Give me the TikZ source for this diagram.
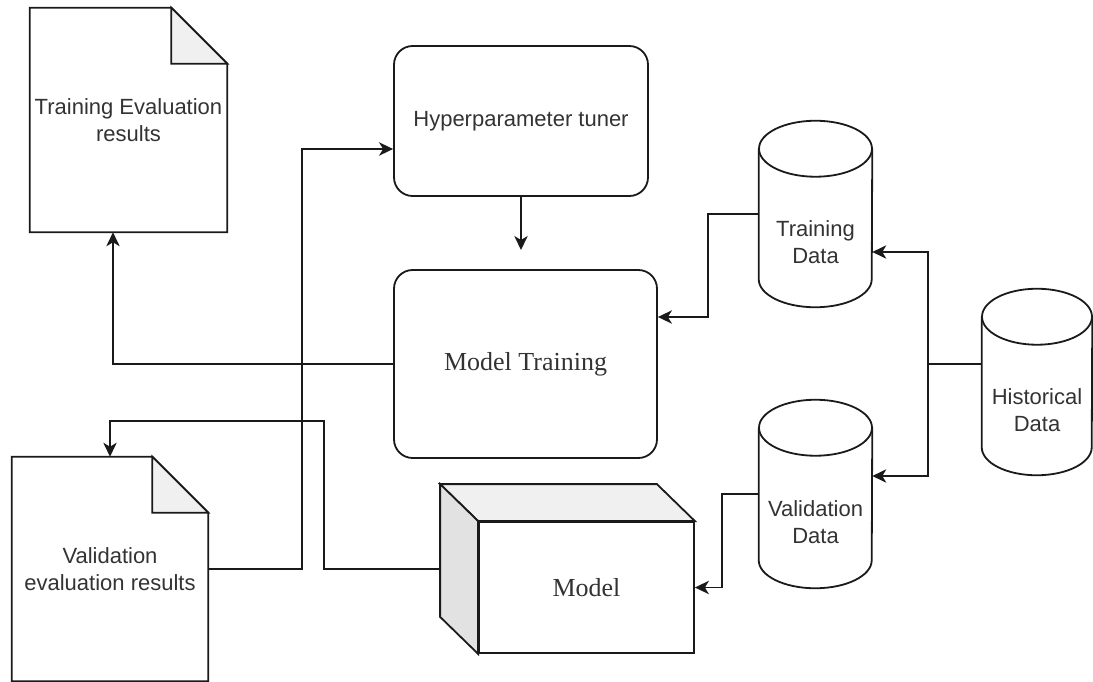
\documentclass[tikz,border=0pt]{standalone}
\usepackage{fontspec}
\setmainfont{Liberation Serif}
\setsansfont{Liberation Sans}
\usetikzlibrary{arrows.meta,calc}

\definecolor{ink}{HTML}{1A1A1A}
\definecolor{txt}{HTML}{333333}
\definecolor{foldgray}{HTML}{F0F0F0}
\definecolor{topgray}{HTML}{F0F0F0}
\definecolor{sidegray}{HTML}{E2E2E2}

\tikzset{
  shp/.style={draw=ink, line width=1.35pt, line join=miter},
  sanslabel/.style={font=\sffamily\fontsize{16.5pt}{20.25pt}\selectfont, text=txt, align=center},
  seriflabel/.style={font=\rmfamily\fontsize{19.5pt}{23pt}\selectfont, text=txt, align=center},
  docbox/.style={sanslabel, inner sep=0pt},
  roundbox/.style={shp, rounded corners=14pt, inner sep=0pt},
  cylbox/.style={sanslabel, inner sep=0pt},
  cubebox/.style={shp, fill=white, seriflabel, inner sep=0pt},
  arr/.style={draw=ink, line width=1.35pt, line join=miter,
    -{Stealth[length=10.5pt, width=10pt, inset=3pt]}},
}

\begin{document}
\begin{tikzpicture}[x=0.75pt, y=-0.75pt]
\useasboundingbox (0,0) rectangle (1093,682);

% ---- shapes ----
\node[docbox, minimum width=147.75pt, minimum height=168pt] (ter) at (128.5,120)
  {Training Evaluation\\results};
\node[docbox, minimum width=147pt, minimum height=168pt] (ver) at (110,569)
  {Validation\\evaluation results};

\node[roundbox, sanslabel, minimum width=190.5pt, minimum height=112.5pt] (hp) at (521,121)
  {Hyperparameter tuner};
\node[roundbox, seriflabel, minimum width=197.25pt, minimum height=141pt] (mt) at (525.5,364)
  {Model Training};

\node[cylbox, minimum width=84.75pt, minimum height=97.5pt] (td) at (815.5,242) {Training\\Data};
\node[cylbox, minimum width=84.75pt, minimum height=99pt] (vd) at (815.5,522) {Validation\\Data};
\node[cylbox, minimum width=82.5pt, minimum height=97.5pt] (hd) at (1037,410) {Historical\\Data};

\node[cubebox, minimum width=161.25pt, minimum height=98.25pt] (mdl) at (586.5,587.5) {Model};

% documents with a folded corner
\foreach \n in {ter,ver} {
  \draw[shp] (\n.north west) -- ([xshift=-42pt]\n.north east) -- ([yshift=-42pt]\n.north east)
    -- (\n.south east) -- (\n.south west) -- cycle;
  \draw[shp, fill=foldgray] ([xshift=-42pt]\n.north east) -- ([xshift=-42pt,yshift=-42pt]\n.north east)
    -- ([yshift=-42pt]\n.north east) -- cycle;
}

% database cylinders
\foreach \n/\rx in {td/42.375pt, vd/42.375pt, hd/41.25pt} {
  \draw[shp] ([yshift=21pt]\n.north) ellipse [x radius=\rx, y radius=21pt];
  \draw[shp] ([yshift=21pt]\n.north west) -- ([yshift=21pt]\n.south west)
    arc[start angle=180, end angle=360, x radius=\rx, y radius=21pt]
    -- ([yshift=21pt]\n.north east);
}

% cube faces of the model
\draw[shp, fill=topgray] (mdl.north west) -- ++(-28.5pt,27.75pt)
  -- ([xshift=-28.5pt,yshift=27.75pt]mdl.north east) -- (mdl.north east) -- cycle;
\draw[shp, fill=sidegray] (mdl.north west) -- ++(-28.5pt,27.75pt)
  -- ([xshift=-28.5pt,yshift=27.75pt]mdl.south west) -- (mdl.south west) -- cycle;

% ---- connectors ----
\coordinate (hpend) at (521,250);
\draw[arr] (hp.south) -- (hpend);

\draw[arr] (mt.west) -| ([xshift=-11.625pt]ter.south);

\draw[arr] ([yshift=21pt]td.west) -- ++(-38.25pt,0) |- ([yshift=35.25pt]mt.east);

\draw[arr] ([yshift=34.5pt]hd.west) -- ++(-40.5pt,0) |- ([yshift=-7.5pt]td.east);
\draw[arr] ([yshift=34.5pt]hd.west) -- ++(-40.5pt,0) |- ([yshift=34.5pt]vd.east);

\draw[arr] ([yshift=21pt]vd.west) -- ++(-27.75pt,0) |- (mdl.east);

\draw[arr] ([xshift=-28.5pt,yshift=13.875pt]mdl.west) -- ++(-87pt,0) -- ++(0,111pt) -| (ver.north);

\draw[arr] (ver.east) -- ++(70.5pt,0) |- ([yshift=-21pt]hp.west);
\end{tikzpicture}
\end{document}
